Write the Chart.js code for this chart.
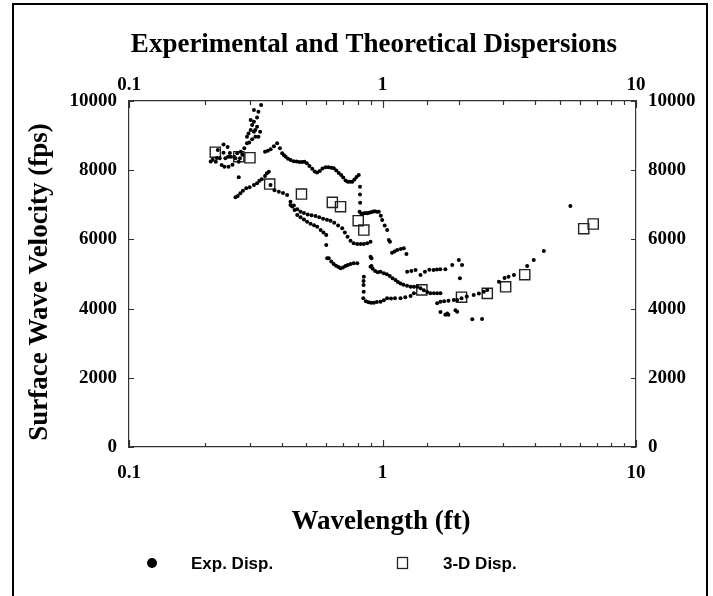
<!DOCTYPE html>
<html>
<head>
<meta charset="utf-8">
<script src="https://cdn.jsdelivr.net/npm/chart.js@4.4.0/dist/chart.umd.min.js"></script>
<style>
  html, body { margin: 0; padding: 0; background: #fff; }
  #wrap { position: relative; width: 713px; height: 596px; }
</style>
</head>
<body>
<div id="wrap"><canvas id="chart" width="713" height="596"></canvas></div>
<script>
// wavelength (ft), velocity (fps)
const expCluster = [
  [0.210, 8250], [0.214, 8300], [0.220, 8246], [0.222, 8350], [0.224, 8584], [0.228, 8343],
  [0.232, 8150], [0.236, 8740], [0.236, 8506], [0.238, 8100], [0.240, 8343], [0.245, 8670],
  [0.246, 8390], [0.247, 8102], [0.250, 8500], [0.252, 8391], [0.256, 8160], [0.260, 8380],
  [0.263, 8343], [0.267, 8487], [0.271, 8246], [0.274, 8343], [0.276, 8535], [0.280, 8450],
  [0.285, 8631], [0.292, 8776], [0.292, 8968], [0.296, 9064], [0.302, 9161], [0.306, 9306],
  [0.311, 9113], [0.311, 9402], [0.302, 9450], [0.320, 9257], [0.311, 9739], [0.324, 9691],
  [0.332, 9884], [0.324, 8968], [0.329, 9113], [0.315, 8968], [0.306, 8891], [0.298, 8800],
  [0.315, 9160], [0.320, 9520]
];
const expRising = [
  [0.263, 7216], [0.2685, 7254], [0.275, 7331], [0.2815, 7408], [0.290, 7476], [0.299, 7505],
  [0.311, 7572], [0.320, 7620], [0.327, 7697], [0.334, 7736], [0.344, 7832], [0.350, 7909],
  [0.356, 7957], [0.271, 7794]
];
const expUpper = [
  [0.344, 8535], [0.353, 8560], [0.362, 8603], [0.373, 8690], [0.384, 8776], [0.394, 8631],
  [0.402, 8487], [0.409, 8430], [0.415, 8391], [0.424, 8330], [0.434, 8295], [0.446, 8260],
  [0.458, 8250], [0.470, 8235], [0.482, 8240], [0.492, 8246], [0.503, 8200], [0.515, 8120],
  [0.528, 8040], [0.540, 7960], [0.552, 7930], [0.566, 7980], [0.580, 8050], [0.596, 8083],
  [0.612, 8083], [0.628, 8070], [0.643, 8054], [0.657, 7990], [0.672, 7920], [0.687, 7861],
  [0.700, 7790], [0.715, 7700], [0.730, 7668], [0.745, 7668], [0.760, 7668], [0.775, 7730],
  [0.790, 7800], [0.806, 7861], [0.815, 7524], [0.815, 7300], [0.816, 7061], [0.812, 6801]
];
const expRight68 = [
  [0.825, 6740], [0.840, 6750], [0.855, 6760], [0.870, 6753], [0.885, 6770], [0.900, 6785],
  [0.915, 6800], [0.930, 6810], [0.950, 6801], [0.967, 6801], [0.985, 6680], [0.997, 6560],
  [1.020, 6400], [1.043, 6271], [1.059, 5982], [1.070, 5934], [1.090, 5616], [1.115, 5650],
  [1.143, 5693], [1.180, 5720], [1.213, 5741], [1.243, 5577]
];
const expMid51 = [
  [1.251, 5067], [1.300, 5090], [1.350, 5115], [1.412, 4971], [1.470, 5067], [1.530, 5120],
  [1.590, 5115], [1.640, 5130], [1.690, 5134], [1.770, 5134], [1.884, 5260], [2.000, 5404],
  [2.060, 5260], [2.020, 4874]
];
const expBranchA = [
  [0.3615, 7572], [0.375, 7420], [0.390, 7380], [0.405, 7340], [0.4205, 7283], [0.4335, 7090],
  [0.447, 6980], [0.461, 6870], [0.4747, 6801], [0.490, 6760], [0.507, 6720], [0.525, 6700],
  [0.544, 6676], [0.563, 6640], [0.583, 6600], [0.6036, 6570], [0.6236, 6541], [0.645, 6480],
  [0.668, 6400], [0.6934, 6319], [0.710, 6200], [0.728, 6080], [0.748, 5963], [0.770, 5886],
  [0.795, 5870], [0.820, 5867], [0.844, 5867], [0.870, 5890], [0.897, 5934]
];
const expBranchB = [
  [0.4335, 6994], [0.440, 6950], [0.450, 6850], [0.461, 6705], [0.475, 6640], [0.490, 6575],
  [0.504, 6512], [0.520, 6450], [0.537, 6410], [0.5525, 6367], [0.570, 6271], [0.585, 6200],
  [0.600, 6127], [0.600, 5838]
];
const expBranchC = [
  [0.605, 5453], [0.614, 5453], [0.628, 5360], [0.642, 5290], [0.656, 5240], [0.670, 5200],
  [0.683, 5164], [0.698, 5190], [0.714, 5230], [0.730, 5260], [0.748, 5290], [0.770, 5308],
  [0.795, 5308], [0.897, 5500], [0.905, 5453], [0.905, 5231]
];
const expBranchD = [
  [0.897, 5212], [0.915, 5150], [0.935, 5090], [0.958, 5050], [0.982, 5067], [1.012, 5019],
  [1.040, 4990], [1.068, 4940], [1.096, 4880], [1.125, 4826], [1.150, 4770], [1.178, 4729],
  [1.210, 4690], [1.250, 4660], [1.290, 4634], [1.330, 4630], [1.370, 4633], [1.412, 4585],
  [1.455, 4530], [1.500, 4480], [1.546, 4441], [1.595, 4441], [1.643, 4441], [1.693, 4441]
];
const expBranchE = [
  [0.844, 4922], [0.842, 4800], [0.842, 4682], [0.843, 4489], [0.840, 4297], [0.860, 4210],
  [0.880, 4180], [0.902, 4172], [0.924, 4172], [0.950, 4190], [0.982, 4200], [1.012, 4240],
  [1.043, 4297], [1.080, 4290], [1.120, 4297], [1.178, 4297], [1.230, 4330], [1.290, 4364],
  [1.330, 4441]
];
const expBranchF = [
  [1.643, 4152], [1.693, 4200], [1.750, 4210], [1.820, 4230], [1.911, 4249], [1.970, 4249],
  [2.050, 4300], [2.150, 4350], [2.290, 4393], [2.400, 4440], [2.510, 4489], [2.590, 4537],
  [2.880, 4778], [3.030, 4884], [3.140, 4922], [3.300, 4971], [3.720, 5231], [3.950, 5404],
  [4.330, 5664], [5.510, 6965]
];
const expLow = [
  [1.693, 3904], [1.770, 3825], [1.800, 3856], [1.820, 3825], [1.940, 3952], [1.970, 3911],
  [2.260, 3689], [2.470, 3700]
];

const theoLambda   = [0.219, 0.271, 0.300, 0.359, 0.479, 0.634, 0.683, 0.802, 0.844, 1.43, 2.05, 2.59, 3.06, 3.64, 6.22, 6.78];
const theoVelocity = [8520, 8390, 8360, 7600, 7310, 7070, 6945, 6540, 6270, 4540, 4330, 4440, 4630, 4980, 6310, 6445];

const xTicksLabeled = [0.1, 1, 10];
const yTicks        = [0, 2000, 4000, 6000, 8000, 10000];

const SERIF = '"Liberation Serif", "Times New Roman", serif';
const SANS  = '"Liberation Sans", Arial, sans-serif';

const expPoints = [].concat(expCluster, expRising, expUpper, expRight68, expMid51,
  expBranchA, expBranchB, expBranchC, expBranchD, expBranchE, expBranchF, expLow)
  .map(p => ({ x: p[0], y: p[1] }));
const theoPoints = theoLambda.map((x, i) => ({ x, y: theoVelocity[i] }));

const isDecade = v => Math.abs(Math.log10(v) - Math.round(Math.log10(v))) < 1e-6;

function xAxis(position, padding, height) {
  return {
    type: 'logarithmic',
    position,
    min: 0.1,
    max: 10,
    grid: { display: false, drawTicks: false },
    border: { display: true, color: '#333', width: 1.2 },
    ticks: {
      autoSkip: false,
      maxRotation: 0,
      padding,
      color: '#000',
      font: { family: SERIF, size: 19, weight: 'bold' },
      callback: v => (isDecade(v) && xTicksLabeled.some(t => Math.abs(t - v) < 1e-9)) ? String(v) : '',
    },
    afterFit: s => { s.height = height; },
  };
}

function yAxis(position, width) {
  return {
    type: 'linear',
    position,
    min: 0,
    max: 10000,
    grid: { display: false, drawTicks: false },
    border: { display: true, color: '#333', width: 1.2 },
    afterBuildTicks: s => { s.ticks = yTicks.map(v => ({ value: v })); },
    ticks: {
      padding: 12,
      color: '#000',
      font: { family: SERIF, size: 19, weight: 'bold' },
      callback: v => String(v),
    },
    afterFit: s => { s.width = width; },
  };
}

const decorations = {
  id: 'decorations',
  afterDraw(chart) {
    const ctx  = chart.ctx;
    const area = chart.chartArea;
    const xs   = chart.scales.x;
    const ys   = chart.scales.y;
    ctx.save();

    // outer frame
    ctx.strokeStyle = '#000';
    ctx.lineWidth = 2;
    ctx.strokeRect(13, 4, 694, 640);

    // inward tick marks
    ctx.strokeStyle = '#333';
    ctx.lineWidth = 1.2;
    ctx.beginPath();
    xs.ticks.forEach(t => {
      const px  = Math.round(xs.getPixelForValue(t.value)) + 0.5;
      const len = isDecade(t.value) ? 7 : 4;
      ctx.moveTo(px, area.bottom); ctx.lineTo(px, area.bottom - len);
      ctx.moveTo(px, area.top);    ctx.lineTo(px, area.top + len);
    });
    ys.ticks.forEach(t => {
      const py = Math.round(ys.getPixelForValue(t.value)) + 0.5;
      ctx.moveTo(area.left, py);  ctx.lineTo(area.left + 5, py);
      ctx.moveTo(area.right, py); ctx.lineTo(area.right - 5, py);
    });
    ctx.stroke();

    // titles
    ctx.fillStyle = '#000';
    ctx.textBaseline = 'middle';
    ctx.textAlign = 'center';
    ctx.font = `bold 27px ${SERIF}`;
    ctx.fillText('Experimental and Theoretical Dispersions', 374, 45);
    ctx.fillText('Wavelength (ft)', 381, 522);
    ctx.save();
    ctx.translate(40, 282);
    ctx.rotate(-Math.PI / 2);
    ctx.fillText('Surface Wave Velocity (fps)', 0, 0);
    ctx.restore();

    // legend
    const ds = chart.data.datasets;
    ctx.beginPath();
    ctx.arc(152, 563, 5, 0, Math.PI * 2);
    ctx.fill();
    ctx.lineWidth = 1.3;
    ctx.strokeStyle = '#222';
    ctx.strokeRect(397.5, 557.5, 10, 11);
    ctx.textAlign = 'left';
    ctx.font = `bold 17px ${SANS}`;
    ctx.fillText(ds[0].label, 191, 564);
    ctx.fillText(ds[1].label, 443, 564);
    ctx.restore();
  },
};

new Chart(document.getElementById('chart'), {
  type: 'scatter',
  data: {
    datasets: [
      {
        label: 'Exp. Disp.',
        data: expPoints,
        pointStyle: 'circle',
        pointRadius: 2,
        pointBackgroundColor: '#000',
        pointBorderWidth: 0,
      },
      {
        label: '3-D Disp.',
        data: theoPoints,
        pointStyle: 'rect',
        pointRadius: 7.2,
        pointBackgroundColor: 'rgba(0,0,0,0)',
        pointBorderColor: '#222',
        pointBorderWidth: 1.4,
      },
    ],
  },
  options: {
    responsive: false,
    animation: false,
    devicePixelRatio: 1,
    layout: { padding: { top: 60, bottom: 49, left: 0, right: 0 } },
    plugins: {
      legend: { display: false },
      tooltip: { enabled: false },
      title: { display: false },
    },
    scales: {
      x:  xAxis('bottom', 15, 100),
      x2: xAxis('top', 5, 41),
      y:  yAxis('left', 129),
      y2: yAxis('right', 77),
    },
  },
  plugins: [decorations],
});
</script>
</body>
</html>
